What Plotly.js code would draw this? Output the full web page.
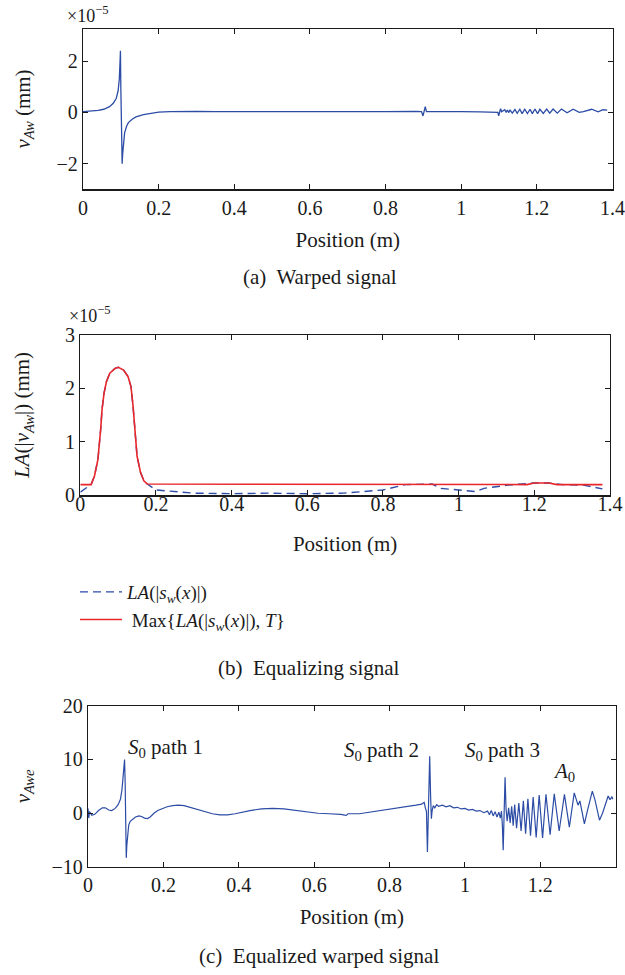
<!DOCTYPE html>
<html><head><meta charset="utf-8">
<script src="https://cdn.plot.ly/plotly-3.0.1.min.js"></script>
<style>html,body{margin:0;padding:0;background:#fff}</style>
</head><body><div id="chart" style="width:625px;height:975px"></div>
<script>
// ---- Panel (a): warped signal, values in units of 1e-5 mm ----
const posA = [0.000,0.020,0.040,0.055,0.070,0.080,0.088,0.093,0.096,0.098,0.099,0.100,0.101,0.1025,0.1035,0.105,0.107,0.110,0.115,0.120,0.130,0.140,0.160,0.180,0.200,0.230,0.260,0.300,0.350,0.400,0.450,0.500,0.600,0.700,0.800,0.880,0.895,0.899,0.902,0.905,0.908,0.950,1.000,1.050,1.090,1.097,1.099,1.101,1.104,1.107,1.111,1.115,1.119,1.122,1.126,1.129,1.135,1.142,1.148,1.155,1.161,1.168,1.175,1.182,1.188,1.195,1.202,1.208,1.217,1.226,1.234,1.243,1.254,1.265,1.280,1.296,1.312,1.323,1.345,1.362,1.375,1.386];
const vAw = [0.03,0.05,0.08,0.12,0.22,0.35,0.55,0.85,1.3,2.0,2.4,1.0,-0.5,-1.6,-2.0,-1.6,-1.1,-0.8,-0.55,-0.4,-0.27,-0.18,-0.09,-0.03,0.01,0.03,0.04,0.04,0.03,0.02,0.02,0.03,0.03,0.02,0.03,0.04,0.03,-0.14,0.0,0.22,0.03,0.04,0.03,0.02,0.01,0.0,-0.14,0.0,0.14,0.02,0.06,0.10,0.0,0.09,-0.01,0.10,-0.03,0.11,-0.04,0.12,-0.05,0.12,-0.05,0.12,-0.05,0.13,-0.05,0.12,-0.04,0.13,-0.03,0.13,-0.03,0.13,-0.02,0.12,0.0,0.03,0.12,0.02,0.10,0.09];

// ---- Panel (b): equalizing signal, units of 1e-5 mm ----
const posLA = [0.000,0.0285,0.0375,0.0466,0.0538,0.0574,0.0628,0.069,0.078,0.0917,0.1007,0.1143,0.126,0.134,0.1395,0.144,0.150,0.159,0.168,0.177,0.200,0.300,0.400,0.498,0.600,0.696,0.800,0.859,0.930,0.953,1.000,1.044,1.067,1.130,1.200,1.238,1.274,1.330,1.380];
const LA = [0.06,0.2,0.36,0.67,1.23,1.6,1.91,2.12,2.28,2.37,2.39,2.34,2.22,2.03,1.66,1.23,0.73,0.43,0.27,0.21,0.10,0.04,0.03,0.04,0.03,0.04,0.10,0.20,0.21,0.13,0.10,0.07,0.13,0.19,0.23,0.23,0.20,0.19,0.12];
const posMax = [0.000,0.0285,0.0375,0.0466,0.0538,0.0574,0.0628,0.069,0.078,0.0917,0.1007,0.1143,0.126,0.134,0.1395,0.144,0.150,0.159,0.168,0.177,1.180,1.200,1.238,1.260,1.380];
const LAmax = [0.2,0.2,0.36,0.67,1.23,1.6,1.91,2.12,2.28,2.37,2.39,2.34,2.22,2.03,1.66,1.23,0.73,0.43,0.27,0.21,0.2,0.23,0.23,0.2,0.2];

// ---- Panel (c): equalized warped signal ----
const posE = [0.000,0.002,0.004,0.010,0.018,0.028,0.038,0.046,0.055,0.063,0.072,0.080,0.086,0.090,0.094,0.097,0.0985,0.0995,0.1005,0.1015,0.103,0.105,0.108,0.112,0.118,0.126,0.135,0.142,0.150,0.158,0.165,0.175,0.185,0.195,0.210,0.225,0.240,0.255,0.270,0.290,0.310,0.330,0.350,0.370,0.390,0.410,0.430,0.460,0.490,0.520,0.550,0.580,0.610,0.640,0.670,0.685,0.690,0.720,0.750,0.780,0.810,0.840,0.870,0.885,0.892,0.895,0.898,0.9005,0.903,0.9065,0.909,0.911,0.913,0.916,0.920,0.925,0.930,0.940,0.950,0.960,0.970,0.980,0.990,1.000,1.010,1.020,1.030,1.040,1.050,1.060,1.065,1.070,1.075,1.080,1.085,1.090,1.094,1.097,1.0995,1.1015,1.104,1.1065,1.109,1.112,1.116,1.120,1.124,1.128,1.132,1.137,1.143,1.149,1.155,1.161,1.167,1.174,1.181,1.189,1.197,1.206,1.215,1.226,1.237,1.250,1.264,1.277,1.290,1.300,1.305,1.317,1.325,1.338,1.345,1.357,1.365,1.375,1.380,1.385,1.390,1.392];
const vAwe = [0.9,-0.9,0.3,-0.4,-0.2,0.5,1.0,1.0,0.6,0.5,0.9,1.6,2.6,4.3,7.5,10.0,6.0,0.0,-5.0,-8.3,-6.0,-3.6,-2.2,-1.5,-1.1,-0.7,-0.5,-0.6,-0.9,-1.0,-0.7,0.0,0.5,0.8,1.2,1.4,1.5,1.4,1.1,0.6,0.2,-0.1,-0.3,-0.3,-0.1,0.2,0.5,0.8,0.9,0.8,0.5,0.2,0.0,-0.1,-0.2,-0.4,-0.1,-0.1,0.2,0.5,0.9,1.2,1.5,1.7,2.0,1.0,0.3,-7.2,0.0,10.6,3.0,-1.0,0.5,1.4,1.0,1.6,1.3,1.5,1.2,1.4,1.0,1.1,0.8,0.9,0.6,0.7,0.4,0.5,0.1,0.4,-0.3,0.5,-0.5,0.3,-0.7,0.2,-0.9,0.4,-2.5,-6.9,0.0,6.7,1.0,-1.5,1.0,-1.8,1.3,-2.3,1.6,-2.8,1.9,-3.3,2.3,-3.8,2.7,-4.2,3.0,-4.5,3.4,-4.6,3.5,-4.0,3.6,-3.3,3.5,-2.6,3.8,1.5,2.3,-2.0,0.5,4.1,2.5,-1.3,0.0,2.0,3.2,2.5,3.1,2.6];

const xTicks = [0,0.2,0.4,0.6,0.8,1,1.2,1.4];
const yTicksA = [-2,0,2];
const yTicksB = [0,1,2,3];
const yTicksC = [-10,0,10,20];

const FONT = "Liberation Serif, 'Times New Roman', 'DejaVu Serif', serif";
const BLUE = "#2c4ca5", RED = "#e8262b", INK = "#1a1a1a";
const W = 625, H = 975;

function ax(extra){
  return Object.assign({showline:true, linecolor:INK, linewidth:1.2, mirror:'ticks', ticks:'inside', ticklen:5,
    tickwidth:1, tickcolor:INK, showgrid:false, zeroline:false, fixedrange:true,
    tickfont:{family:FONT,size:20,color:INK}}, extra);
}

const traces = [
  {x:posA, y:vAw, xaxis:'x', yaxis:'y', mode:'lines', line:{color:BLUE,width:1.3}, showlegend:false, hoverinfo:'skip'},
  {x:posLA, y:LA, xaxis:'x2', yaxis:'y2', mode:'lines', name:'<i>LA</i>(|<i>s</i><sub><i>w</i></sub>(<i>x</i>)|)', line:{color:BLUE,width:1.4,dash:'8px,5px'}, hoverinfo:'skip'},
  {x:posMax, y:LAmax, xaxis:'x2', yaxis:'y2', mode:'lines', name:' Max{<i>LA</i>(|<i>s</i><sub><i>w</i></sub>(<i>x</i>)|), <i>T</i>}', line:{color:RED,width:1.6}, hoverinfo:'skip'},
  {x:posE, y:vAwe, xaxis:'x3', yaxis:'y3', mode:'lines', line:{color:BLUE,width:1.2}, showlegend:false, hoverinfo:'skip'}
];

const titleFont = {family:FONT, size:21, color:INK};
const layout = {
  width:W, height:H, margin:{l:0,r:0,t:0,b:0}, paper_bgcolor:'#fff', plot_bgcolor:'#fff',
  font:{family:FONT, color:INK},
  xaxis: ax({domain:[83/W, 612.5/W], anchor:'y', range:[0,1.4], tickvals:xTicks, title:{text:'Position (m)', font:titleFont, standoff:14}}),
  yaxis: ax({domain:[1-189.3/H, 1-28.7/H], anchor:'x', range:[-3,3.26], tickvals:yTicksA, title:{text:'<i>v</i><sub><i>Aw</i></sub> (mm)', font:titleFont, standoff:20}}),
  xaxis2: ax({domain:[80.3/W, 610/W], anchor:'y2', range:[0,1.4], tickvals:xTicks, ticklabelstandoff:-10, title:{text:'Position (m)', font:titleFont, standoff:22}}),
  yaxis2: ax({domain:[1-495.3/H, 1-334.7/H], anchor:'x2', range:[0,3], tickvals:yTicksB, title:{text:'<i>LA</i>(|<i>v</i><sub><i>Aw</i></sub>|) (mm)', font:titleFont, standoff:29}}),
  xaxis3: ax({domain:[88/W, 615.7/W], anchor:'y3', range:[0,1.4], tickvals:xTicks, title:{text:'Position (m)', font:titleFont, standoff:14}}),
  yaxis3: ax({domain:[1-867/H, 1-705.7/H], anchor:'x3', range:[-10,20], tickvals:yTicksC, title:{text:'<i>v</i><sub><i>Awe</i></sub>', font:titleFont, standoff:15}}),
  showlegend:true,
  legend:{x:75/W, y:1-573/H, xanchor:'left', yanchor:'top', itemwidth:42, bgcolor:'rgba(0,0,0,0)', font:{family:FONT,size:19,color:INK}, tracegroupgap:0},
  annotations:[
    {xref:'paper', yref:'paper', x:65/W, y:1-14/H, xanchor:'left', yanchor:'middle', showarrow:false, text:'×10<sup>−5</sup>', font:{family:FONT,size:18,color:INK}},
    {xref:'paper', yref:'paper', x:67/W, y:1-315/H, xanchor:'left', yanchor:'middle', showarrow:false, text:'×10<sup>−5</sup>', font:{family:FONT,size:18,color:INK}},
    {xref:'paper', yref:'paper', x:320/W, y:1-277/H, xanchor:'center', yanchor:'middle', showarrow:false, text:'(a)  Warped signal', font:titleFont},
    {xref:'paper', yref:'paper', x:309/W, y:1-668/H, xanchor:'center', yanchor:'middle', showarrow:false, text:'(b)  Equalizing signal', font:titleFont},
    {xref:'paper', yref:'paper', x:319/W, y:1-956/H, xanchor:'center', yanchor:'middle', showarrow:false, text:'(c)  Equalized warped signal', font:titleFont},
    {xref:'x3', yref:'y3', x:0.1, y:12.1, xanchor:'left', yanchor:'middle', showarrow:false, text:'<i>S</i><sub>0</sub> path 1', font:titleFont},
    {xref:'x3', yref:'y3', x:0.675, y:11.5, xanchor:'left', yanchor:'middle', showarrow:false, text:'<i>S</i><sub>0</sub> path 2', font:titleFont},
    {xref:'x3', yref:'y3', x:0.994, y:11.5, xanchor:'left', yanchor:'middle', showarrow:false, text:'<i>S</i><sub>0</sub> path 3', font:titleFont},
    {xref:'x3', yref:'y3', x:1.228, y:7.7, xanchor:'left', yanchor:'middle', showarrow:false, text:'<i>A</i><sub>0</sub>', font:titleFont}
  ]
};
Plotly.newPlot('chart', traces, layout, {staticPlot:true, displayModeBar:false});
</script></body></html>
